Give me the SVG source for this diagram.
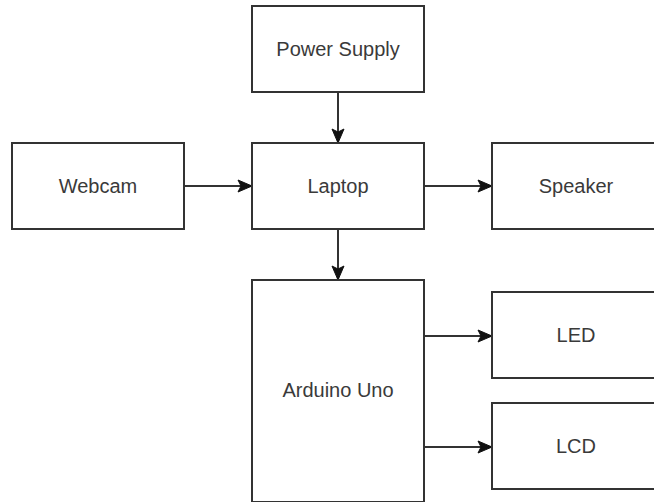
<svg xmlns="http://www.w3.org/2000/svg" width="654" height="502" viewBox="0 0 654 502">
  <style>
    .box { fill: #ffffff; stroke: #333333; stroke-width: 2; }
    .lbl { font-family: "Liberation Sans", Arial, sans-serif; font-size: 20px; fill: #3a3a3a; text-anchor: middle; dominant-baseline: central; }
    .edge { fill: none; stroke: #333333; stroke-width: 2; }
  </style>
  <defs>
    <marker id="arrow" markerUnits="userSpaceOnUse" markerWidth="16" markerHeight="14" refX="15" refY="7" orient="auto" viewBox="0 0 16 14">
      <path d="M1,1 L15,7 L1,13 L4,7 Z" fill="#111111" stroke="#111111" stroke-width="1" stroke-linejoin="miter"/>
    </marker>
  </defs>
  <rect x="0" y="0" width="654" height="502" fill="#ffffff"/>
  <g id="connectors">
    <line class="edge" x1="338" y1="93" x2="338" y2="143" marker-end="url(#arrow)"/>
    <line class="edge" x1="184" y1="186" x2="252" y2="186" marker-end="url(#arrow)"/>
    <line class="edge" x1="424" y1="186" x2="492" y2="186" marker-end="url(#arrow)"/>
    <line class="edge" x1="338" y1="229" x2="338" y2="280" marker-end="url(#arrow)"/>
    <line class="edge" x1="424" y1="336" x2="492" y2="336" marker-end="url(#arrow)"/>
    <line class="edge" x1="424" y1="447" x2="492" y2="447" marker-end="url(#arrow)"/>
  </g>
  <g id="power-supply">
    <rect class="box" x="252" y="6" width="172" height="86"/>
    <text class="lbl" x="338" y="49">Power Supply</text>
  </g>
  <g id="webcam">
    <rect class="box" x="12" y="143" width="172" height="86"/>
    <text class="lbl" x="98" y="186">Webcam</text>
  </g>
  <g id="laptop">
    <rect class="box" x="252" y="143" width="172" height="86"/>
    <text class="lbl" x="338" y="186">Laptop</text>
  </g>
  <g id="speaker">
    <rect class="box" x="492" y="143" width="170" height="86"/>
    <text class="lbl" x="576" y="186">Speaker</text>
  </g>
  <g id="arduino-uno">
    <rect class="box" x="252" y="280" width="172" height="222"/>
    <text class="lbl" x="338" y="390">Arduino Uno</text>
  </g>
  <g id="led">
    <rect class="box" x="492" y="292" width="170" height="86"/>
    <text class="lbl" x="576" y="335">LED</text>
  </g>
  <g id="lcd">
    <rect class="box" x="492" y="403" width="170" height="86"/>
    <text class="lbl" x="576" y="446">LCD</text>
  </g>
</svg>
